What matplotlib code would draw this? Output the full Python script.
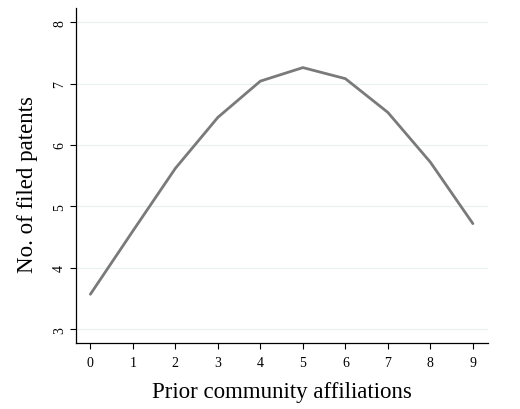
import matplotlib
matplotlib.use("Agg")
import matplotlib.pyplot as plt

# Predicted number of filed patents by prior community affiliations
affiliations = [0, 1, 2, 3, 4, 5, 6, 7, 8, 9]
patents = [3.57, 4.60, 5.62, 6.45, 7.04, 7.26, 7.08, 6.53, 5.72, 4.72]
y_ticks = [3, 4, 5, 6, 7, 8]

plt.rcParams["font.family"] = ["Liberation Serif", "DejaVu Serif"]

fig = plt.figure(figsize=(5.2, 4.1), dpi=100)
ax = fig.add_axes([0.146, 0.160, 0.792, 0.818])

ax.plot(affiliations, patents, color="#7a7a7a", linewidth=2.0,
        solid_capstyle="round", zorder=3)

ax.set_xlim(-0.34, 9.35)
ax.set_ylim(2.77, 8.23)
ax.set_xticks(affiliations)
ax.set_yticks(y_ticks)
ax.tick_params(axis="both", labelsize=10, length=4, width=0.8, direction="out")
ax.tick_params(axis="x", pad=5)
ax.tick_params(axis="y", pad=3)
for lab in ax.get_yticklabels():
    lab.set_rotation(90)
    lab.set_va("center")

ax.grid(axis="y", color="#eaf1f3", linewidth=0.9, zorder=0)
ax.spines["top"].set_visible(False)
ax.spines["right"].set_visible(False)
ax.spines["left"].set_linewidth(0.9)
ax.spines["bottom"].set_linewidth(0.9)

ax.set_xlabel("Prior community affiliations", fontsize=16.5, labelpad=9)
ax.set_ylabel("No. of filed patents", fontsize=16.5, labelpad=11)
ax.yaxis.label.set_y(0.478)

fig.savefig("out.png", dpi=100)
